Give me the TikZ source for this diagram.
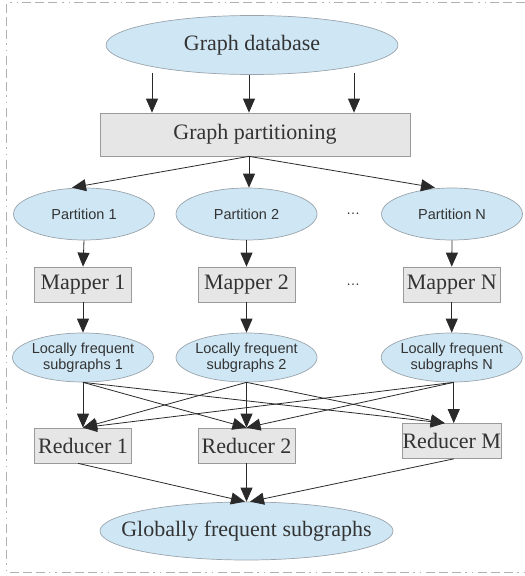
\documentclass[tikz,border=0pt]{standalone}
\usepackage{fontspec}
\setmainfont{Liberation Serif}
\setsansfont{Liberation Sans}
\usetikzlibrary{shapes.geometric,arrows.meta}
\definecolor{ellfill}{HTML}{CFE7F5}
\definecolor{ellline}{HTML}{9AA4AC}
\definecolor{boxfill}{HTML}{E6E6E6}
\definecolor{boxline}{HTML}{9A9A9A}
\definecolor{txt}{HTML}{333333}
\definecolor{edgec}{HTML}{2A2A2A}
\definecolor{framec}{HTML}{B0B0B0}
\begin{document}
\begin{tikzpicture}[x=1pt,y=-1pt,
  ell/.style={ellipse,draw=ellline,line width=0.7pt,fill=ellfill,inner sep=0pt,text=txt},
  bigell/.style={ell,font=\fontsize{22}{24}\selectfont,minimum width=292pt,minimum height=59pt},
  smell/.style={ell,font=\sffamily\fontsize{14.5}{16.5}\selectfont,minimum width=141pt,minimum height=52pt},
  lfell/.style={ell,font=\sffamily\fontsize{14.5}{16}\selectfont,align=center,inner xsep=-10pt,minimum width=141pt,minimum height=49pt},
  boxn/.style={rectangle,draw=boxline,line width=0.7pt,fill=boxfill,inner sep=0pt,text=txt,font=\fontsize{22}{24}\selectfont},
  smbox/.style={boxn,minimum width=97pt,minimum height=35pt},
  dotn/.style={text=txt,font=\sffamily\fontsize{14}{16}\selectfont,inner sep=0pt},
  arr/.style={draw=edgec,line width=0.8pt,-{Triangle[length=14pt,width=12pt]}}
]
\useasboundingbox (0,0) rectangle (525,576);
% frame
\draw[framec,line width=0.8pt,dash pattern=on 9pt off 4pt on 9pt off 4pt on 9pt off 4pt on 1.5pt off 5pt on 1.5pt off 5pt]
  (525,2.5) -- (6.5,2.5) -- (6.5,572.5) -- (525,572.5);

% nodes
\node[bigell] (db) at (252,45) {Graph database};
\node[boxn,minimum width=310pt,minimum height=43pt] (gp) at (255,134.5) {Graph partitioning};

\node[smell] (p1) at (84,214) {Partition 1};
\node[smell] (p2) at (246.5,214) {Partition 2};
\node[smell] (pn) at (452,214) {Partition N};
\node[dotn] (d1) at (353,214) {\ldots};

\node[smbox] (m1) at (83,284.5) {Mapper 1};
\node[smbox] (m2) at (246.5,284.5) {Mapper 2};
\node[smbox] (mn) at (451.75,284.5) {Mapper N};
\node[dotn] (d2) at (353,285) {\ldots};

\node[lfell] (lf1) at (83,357.5) {Locally frequent\\subgraphs 1};
\node[lfell] (lf2) at (246.5,357.5) {Locally frequent\\subgraphs 2};
\node[lfell] (lfn) at (451.75,357.5) {Locally frequent\\subgraphs N};

\node[smbox] (r1) at (83,445.5) {Reducer 1};
\node[smbox] (r2) at (246.5,445.5) {Reducer 2};
\node[smbox] (rm) at (451.75,441) {Reducer M};

\node[bigell,inner xsep=-40pt,minimum width=293pt,minimum height=58pt] (gl) at (246.5,531) {Globally frequent subgraphs};

% edges
\draw[arr] ([xshift=-100pt,yshift=2pt]db.south) -- ([xshift=-103pt]gp.north);
\draw[arr] ([xshift=-3pt]db.south) -- ([xshift=-6pt]gp.north);
\draw[arr] ([xshift=102pt,yshift=2pt]db.south) -- ([xshift=99pt]gp.north);

\draw[arr] ([xshift=-6pt]gp.south) -- ([xshift=-12pt]p1.north);
\draw[arr] ([xshift=-6pt]gp.south) -- ([xshift=2.5pt]p2.north);
\draw[arr] ([xshift=-6pt]gp.south) -- ([xshift=-17pt]pn.north);

\draw[arr] (p1.south) -- (m1.north);
\draw[arr] (p2.south) -- (m2.north);
\draw[arr] (pn.south) -- (mn.north);

\draw[arr] (m1.south) -- (lf1.north);
\draw[arr] (m2.south) -- (lf2.north);
\draw[arr] (mn.south) -- (lfn.north);

\draw[arr] (lf1.south) -- (r1.north);
\draw[arr] (lf1.south) -- (r2.north);
\draw[arr] (lf1.south) -- ([xshift=-7pt]rm.north);
\draw[arr] (lf2.south) -- (r1.north);
\draw[arr] (lf2.south) -- (r2.north);
\draw[arr] (lf2.south) -- ([xshift=-7pt]rm.north);
\draw[arr] ([xshift=2pt]lfn.south) -- (r1.north);
\draw[arr] ([xshift=2pt]lfn.south) -- (r2.north);
\draw[arr] ([xshift=2pt]lfn.south) -- ([xshift=2pt]rm.north);

\draw[arr] ([xshift=-5pt]r1.south) -- ([xshift=-1.5pt]gl.north);
\draw[arr] (r2.south) -- (gl.north);
\draw[arr] ([xshift=2pt]rm.south) -- ([xshift=3.5pt]gl.north);
\end{tikzpicture}
\end{document}
